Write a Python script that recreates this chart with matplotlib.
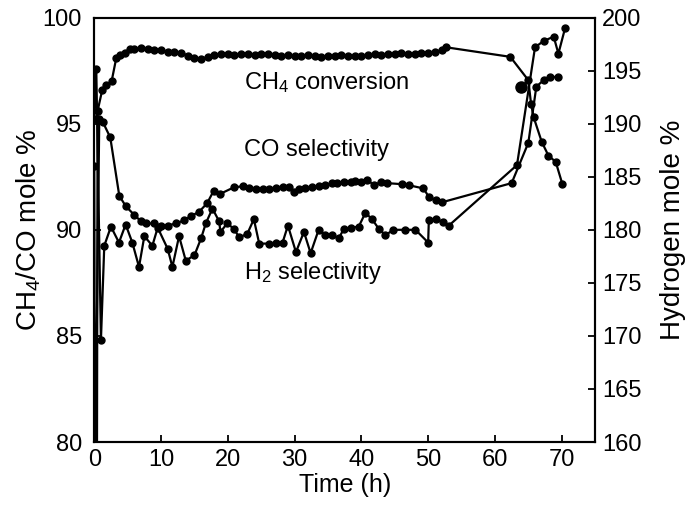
import matplotlib
matplotlib.use("Agg")
import matplotlib.pyplot as plt

plt.rcParams["font.family"] = ["Liberation Sans", "DejaVu Sans"]
plt.rcParams["mathtext.fontset"] = "custom"
plt.rcParams["mathtext.rm"] = "Liberation Sans"
plt.rcParams["mathtext.it"] = "Liberation Sans"

# CH4 conversion (left axis, mole %)
ch4_t = [0.4, 0.5, 1.2, 1.8, 2.6, 3.3, 3.8, 4.6, 5.3,
         6, 7, 8, 9, 10, 11, 12, 13, 14, 15, 16, 17, 18, 19, 20, 21, 22, 23,
         24, 25, 26, 27, 28, 29, 30, 31, 32, 33, 34, 35, 36, 37, 38, 39, 40,
         41, 42, 43, 44, 45, 46, 47, 48, 49, 50, 51, 52,
         52.7, 62.3, 65.0, 65.4, 65.8, 67.0, 68.0, 69.1, 70.1]
ch4_v = [78.0, 95.6, 96.6, 96.8, 97.0, 98.1, 98.25, 98.35, 98.5,
         98.5, 98.55, 98.5, 98.45, 98.45, 98.4, 98.4, 98.35, 98.2, 98.1, 98.05,
         98.15, 98.25, 98.3, 98.3, 98.25, 98.3, 98.3, 98.25, 98.3, 98.3, 98.25,
         98.2, 98.25, 98.2, 98.2, 98.25, 98.2, 98.15, 98.2, 98.2, 98.25, 98.2,
         98.2, 98.2, 98.25, 98.3, 98.25, 98.3, 98.3, 98.35, 98.3, 98.3, 98.35,
         98.35, 98.4, 98.45,
         98.6, 98.15, 97.05, 95.95, 95.3, 94.15, 93.5, 93.2, 92.15]

# CO selectivity (left axis)
co_t = [0, 0.1, 0.75, 1.25, 2.4, 3.75, 4.75, 6.0, 7.0, 7.7, 9.0, 10.0, 11.0,
        12.2, 13.5, 14.5, 15.7, 16.9, 17.9, 18.9, 20.9, 22.2, 23.2, 24.2, 25.2,
        26.2, 27.2, 28.2, 29.2, 29.9, 30.6, 31.6, 32.6, 33.6, 34.6, 35.6, 36.4,
        37.4, 38.4, 39.1, 39.9, 40.9, 41.9, 42.9, 43.8, 46.1, 47.1, 49.3, 50.1,
        51.1, 52.1, 62.5, 65.0, 66.2, 67.3, 68.3, 69.5]
co_v = [93.0, 78.0, 95.2, 95.1, 94.35, 91.6, 91.1, 90.7, 90.4, 90.3, 90.3, 90.2,
        90.2, 90.3, 90.45, 90.65, 90.85, 91.25, 91.85, 91.7, 92.0, 92.05, 91.95,
        91.9, 91.9, 91.9, 91.95, 92.0, 92.0, 91.8, 91.9, 91.95, 92.0, 92.05, 92.1,
        92.2, 92.2, 92.25, 92.25, 92.3, 92.25, 92.35, 92.1, 92.25, 92.2, 92.15,
        92.1, 91.95, 91.55, 91.4, 91.3, 92.2, 94.1, 96.75, 97.05, 97.2, 97.2]

# H2 selectivity (right axis, hydrogen mole %)
h2_t = [0, 0.3, 1.0, 1.5, 2.5, 3.7, 4.7, 5.7, 6.7, 7.5, 8.7, 9.5, 11.0, 11.7,
        12.7, 13.7, 15.0, 16.0, 16.7, 17.7, 18.7, 18.9, 19.9, 20.9, 21.7, 22.9,
        23.9, 24.7, 26.2, 27.2, 28.2, 29.0, 30.2, 31.4, 32.4, 33.6, 34.6, 35.6,
        36.6, 37.4, 38.4, 39.6, 40.6, 41.6, 42.6, 43.6, 44.8, 46.6, 48.1, 50.0,
        50.1, 51.2, 52.2, 53.1, 63.3, 66.0, 67.3, 68.8, 69.5, 70.5]
h2_v = [190.4, 195.2, 169.6, 178.5, 180.3, 178.8, 180.5, 178.8, 176.5, 179.4,
        178.5, 180.2, 178.2, 176.5, 179.4, 177.1, 177.6, 179.2, 180.6, 182.0,
        180.8, 179.8, 180.6, 180.1, 179.3, 179.6, 181.0, 178.7, 178.7, 178.8,
        178.8, 180.4, 177.9, 179.8, 177.8, 180.0, 179.5, 179.5, 179.2, 180.1,
        180.2, 180.3, 181.6, 181.0, 180.1, 179.5, 180.0, 180.0, 180.0, 178.8,
        180.9, 181.0, 180.7, 180.4, 186.1, 197.2, 197.8, 198.2, 196.6, 199.0]

# lone point near the end
extra_t = [63.9]
extra_v = [96.75]

fig = plt.figure(figsize=(6.88, 5.17), dpi=100)
ax = fig.add_axes([0.137, 0.145, 0.728, 0.821])
ax2 = ax.twinx()

style = dict(color="black", lw=1.6, marker="o", ms=5, mfc="black", mec="black")
ax.plot(ch4_t, ch4_v, **style)
ax.plot(co_t, co_v, **style)
ax2.plot(h2_t, h2_v, **style)
ax.plot(extra_t, extra_v, "o", color="black", ms=8)

ax.set_xlim(0, 75)
ax.set_ylim(80, 100)
ax2.set_ylim(160, 200)
ax.set_xticks(range(0, 71, 10))
ax.set_yticks(range(80, 101, 5))
ax2.set_yticks(range(160, 201, 5))

for a in (ax, ax2):
    a.tick_params(direction="in", length=5, width=1.3, labelsize=17, pad=5)
    for s in a.spines.values():
        s.set_linewidth(1.5)
ax.tick_params(axis="y", pad=9)

ax.set_xlabel("Time (h)", fontsize=18)
ax.set_ylabel("CH$_4$/CO mole %", fontsize=20)
ax2.set_ylabel("Hydrogen mole %", fontsize=20)
ax.xaxis.set_label_coords(0.5, -0.073)
ax.yaxis.set_label_coords(-0.102, 0.5)
ax2.yaxis.set_label_coords(1.13, 0.5)

ax.text(22.4, 96.95, "CH$_4$ conversion", fontsize=17, va="center")
ax.text(22.4, 93.75, "CO selectivity", fontsize=17, va="center")
ax.text(22.4, 87.95, "H$_2$ selectivity", fontsize=17, va="center")

fig.savefig("out.png", dpi=100)
